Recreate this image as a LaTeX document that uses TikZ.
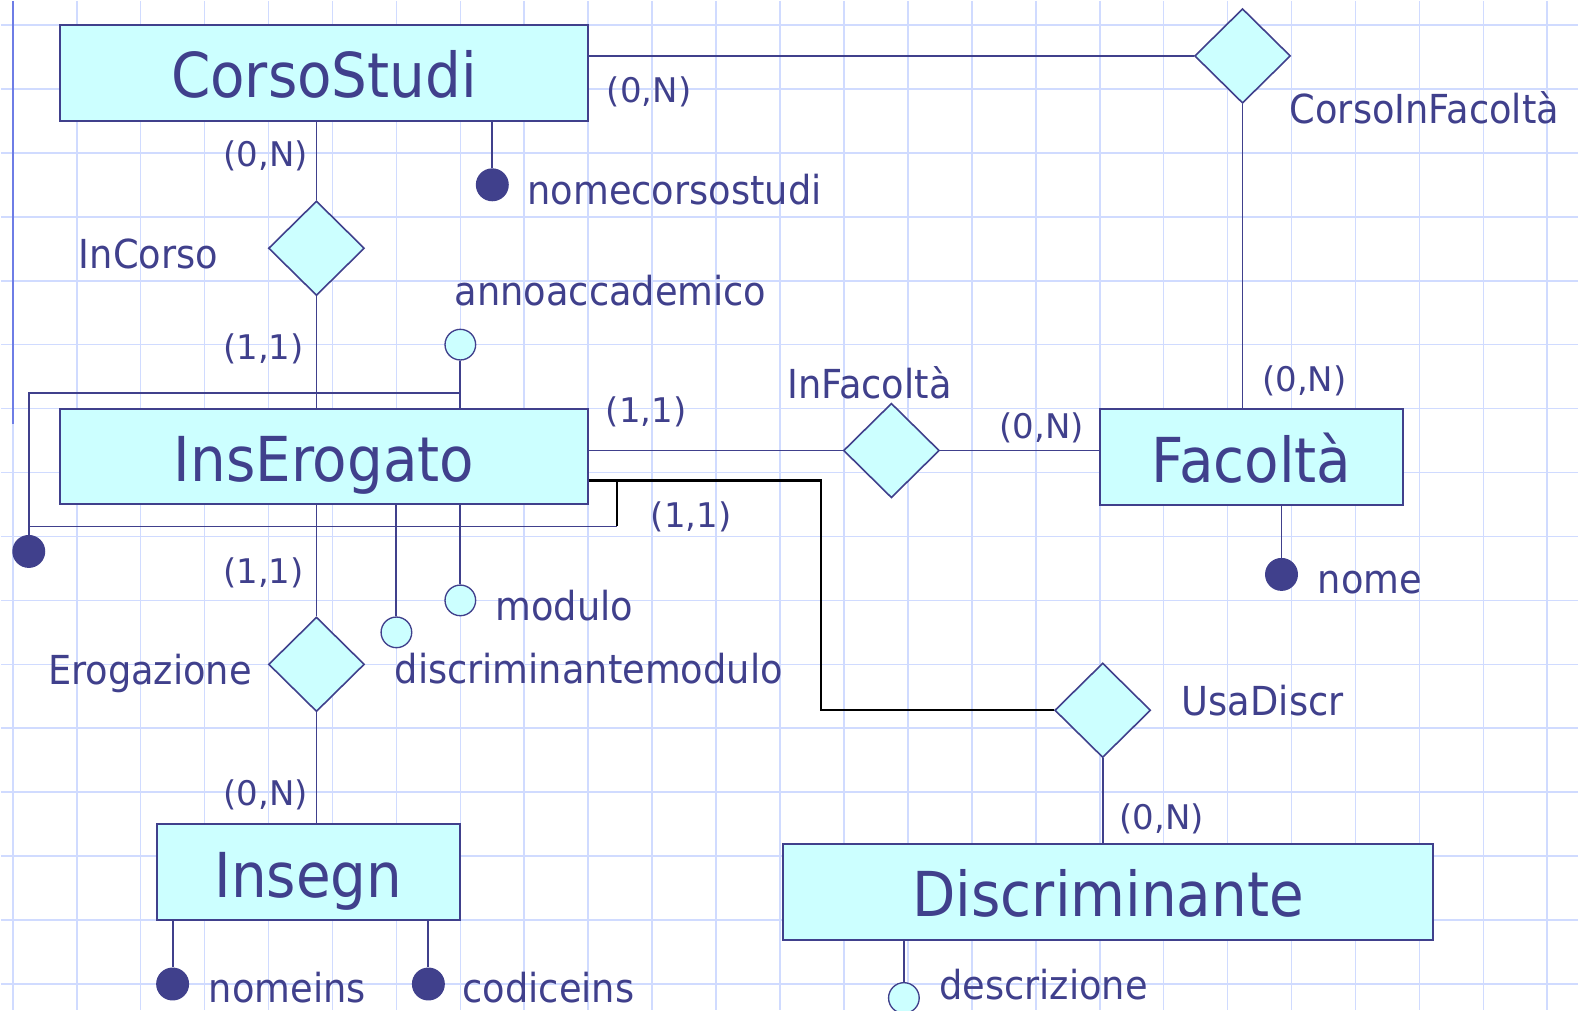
\documentclass[tikz,border=0pt]{standalone}
\usepackage{fontspec}
\setmainfont{DejaVu Sans}
\newfontfamily\erfont[FakeStretch=0.92]{DejaVu Sans}
\newfontfamily\entfont[FakeStretch=0.91]{DejaVu Sans}
\usetikzlibrary{shapes.geometric}

\definecolor{erblue}{RGB}{64,64,140}
\definecolor{ercyan}{RGB}{204,255,255}
\definecolor{gridblue}{RGB}{208,219,255}
\definecolor{marginblue}{RGB}{110,125,230}

\begin{document}
\begin{tikzpicture}[x=0.75pt,y=-0.75pt,
    entity/.style={draw=erblue,fill=ercyan,line width=1.5pt,minimum height=72pt,inner sep=0pt,
      text=erblue,font=\entfont\fontsize{46.5}{50}\selectfont,text height=39pt,text depth=1.5pt},
    relation/.style={diamond,draw=erblue,fill=ercyan,line width=1.2pt,
      minimum width=72pt,minimum height=71pt,inner sep=0pt},
    keyattr/.style={circle,fill=erblue,minimum size=24.75pt,inner sep=0pt},
    attr/.style={circle,draw=erblue,fill=ercyan,line width=1pt,minimum size=23pt,inner sep=0pt},
    lbl/.style={text=erblue,font=\erfont\fontsize{30}{34}\selectfont,inner sep=0pt,anchor=base west},
    card/.style={text=erblue,font=\fontsize{25.5}{29}\selectfont,inner sep=0pt},
    link/.style={draw=erblue,line width=1.4pt},
    usaline/.style={draw=black,line width=1.7pt},
    gridline/.style={draw=gridblue,line width=1.2pt}]

  % squared paper
  \fill[white] (0,0) rectangle (1579,1010);
  \foreach \gx in {0,...,24}
    \draw[gridline] ({12+64*\gx},0) -- ({12+64*\gx},1010);
  \foreach \gy in {0,...,15}
    \draw[gridline] (0,{24+64*\gy}) -- (1579,{24+64*\gy});
  \draw[marginblue,line width=1.5pt] (12,0) -- (12,423);
  \useasboundingbox (0,0) rectangle (1579,1010);

  % entities
  \node[entity,minimum width=396.75pt] (CorsoStudi) at (323.5,72) {CorsoStudi};
  \node[entity,minimum width=396.75pt] (InsErogato) at (323.5,456) {InsErogato};
  \node[entity,minimum width=228pt] (Facolta) at (1252,456.5) {Facoltà};
  \node[entity,minimum width=228pt] (Insegn) at (308,872) {Insegn};
  \node[entity,minimum width=488pt] (Discriminante) at (1108.5,891.5) {Discriminante};

  % relationships
  \node[relation] (InCorso) at (316,247.5) {};
  \node[relation] (CorsoInFacolta) at (1243,55) {};
  \node[relation] (InFacolta) at (891.5,450) {};
  \node[relation] (Erogazione) at (316,664) {};
  \node[relation] (UsaDiscr) at (1103,710) {};

  \node[lbl] (lInCorso) at (78,268) {InCorso};
  \node[lbl] (lCorsoInFacolta) at (1290,123) {CorsoInFacoltà};
  \node[lbl] (lInFacolta) at (787,398) {InFacoltà};
  \node[lbl] (lErogazione) at (47,684) {Erogazione};
  \node[lbl] (lUsaDiscr) at (1182,715) {UsaDiscr};

  % attributes
  \node[keyattr] (nomecorsostudi) at (492,184) {};
  \node[attr] (annoaccademico) at (460,344) {};
  \node[attr] (modulo) at (460,600) {};
  \node[attr] (discriminantemodulo) at (396,632) {};
  \node[keyattr] (nome) at (1282,574) {};
  \node[keyattr] (nomeins) at (172,984) {};
  \node[keyattr] (codiceins) at (428,984) {};
  \node[attr] (descrizione) at (904,998) {};
  \node[keyattr] (idInsErogato) at (28,551) {};

  \node[lbl] (lnomecorsostudi) at (527,204) {nomecorsostudi};
  \node[lbl] (lannoaccademico) at (454,305) {annoaccademico};
  \node[lbl] (lmodulo) at (495,620) {modulo};
  \node[lbl] (ldiscriminantemodulo) at (394,683) {discriminantemodulo};
  \node[lbl] (lnome) at (1318,593) {nome};
  \node[lbl] (lnomeins) at (208,1003) {nomeins};
  \node[lbl] (lcodiceins) at (462,1003) {codiceins};
  \node[lbl] (ldescrizione) at (939,1000) {descrizione};

  % connectors
  \draw[link] (CorsoStudi.south -| InCorso) -- (InCorso.north);
  \draw[link] (InCorso.south) -- (InCorso.south |- InsErogato.north);
  \draw[link] (CorsoInFacolta.west -| CorsoStudi.east) -- (CorsoInFacolta.west);
  \draw[link] (CorsoInFacolta.south) -- (CorsoInFacolta.south |- Facolta.north);
  \draw[link] (InFacolta.west -| InsErogato.east) -- (InFacolta.west);
  \draw[link] (InFacolta.east) -- (InFacolta.east -| Facolta.west);
  \draw[link] (InsErogato.south -| Erogazione) -- (Erogazione.north);
  \draw[link] (Erogazione.south) -- (Erogazione.south |- Insegn.north);
  \draw[link] (UsaDiscr.south) -- (UsaDiscr.south |- Discriminante.north);

  \draw[link] (CorsoStudi.south -| nomecorsostudi) -- (nomecorsostudi.north);
  \draw[link] (annoaccademico.south) -- (annoaccademico.south |- InsErogato.north);
  \draw[link] (InsErogato.south -| modulo) -- (modulo.north);
  \draw[link] (InsErogato.south -| discriminantemodulo) -- (discriminantemodulo.north);
  \draw[link] (Facolta.south -| nome) -- (nome.north);
  \draw[link] (Insegn.south -| nomeins) -- (nomeins.north);
  \draw[link] (Insegn.south -| codiceins) -- (codiceins.north);
  \draw[link] (Discriminante.south -| descrizione) -- (descrizione.north);

  % external identifier of InsErogato
  \coordinate (idUp) at (28,392);
  \coordinate (idLow) at (28,526);
  \coordinate (idRight) at (617,526);
  \coordinate (bend) at (821,480);
  \draw[link] (annoaccademico |- idUp) -- (idUp) -- (idInsErogato.north);
  \draw[link] (idLow) -- (idRight);
  \draw[usaline] (idRight) -- (idRight |- bend);
  \draw[usaline] (bend -| InsErogato.east) -- (bend) |- (UsaDiscr.west);

  % cardinalities
  \node[card] (c1) at (265,155) {(0,N)};
  \node[card] (c2) at (263,348) {(1,1)};
  \node[card] (c3) at (649,91) {(0,N)};
  \node[card] (c4) at (1305,380) {(0,N)};
  \node[card] (c5) at (646,411) {(1,1)};
  \node[card] (c6) at (1042,427) {(0,N)};
  \node[card] (c7) at (691,516) {(1,1)};
  \node[card] (c8) at (263,572) {(1,1)};
  \node[card] (c9) at (265,795) {(0,N)};
  \node[card] (c10) at (1162,819) {(0,N)};
\end{tikzpicture}
\end{document}
